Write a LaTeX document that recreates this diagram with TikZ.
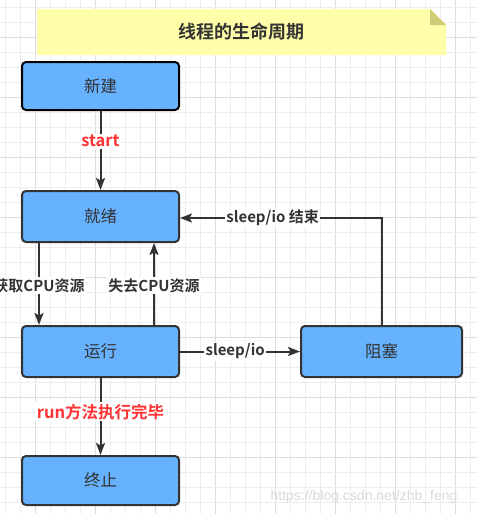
\documentclass[tikz,border=0pt]{standalone}
\usepackage{fontspec}
\setmainfont{Noto Sans CJK SC}[BoldFont={Noto Sans CJK SC Bold}]
\newfontfamily\wmfont{Liberation Sans}
\usetikzlibrary{arrows.meta}
\definecolor{boxfill}{HTML}{66B2FF}
\definecolor{boxline}{HTML}{333333}
\definecolor{txt}{HTML}{333333}
\definecolor{redlbl}{HTML}{FF3333}
\definecolor{notefill}{HTML}{FFFFAA}
\definecolor{notefold}{HTML}{CDCD77}
\definecolor{gridminor}{HTML}{EDEDED}
\definecolor{gridmajor}{HTML}{DEDEDE}
\tikzset{
  statebox/.style={draw=boxline, line width=2pt, fill=boxfill, rounded corners=4pt,
    minimum width=157pt, minimum height=51pt, inner sep=0pt,
    text=txt, font=\fontsize{16.5}{18}\selectfont},
  conn/.style={draw=boxline, line width=2pt, -{Stealth[length=12pt,width=9pt,inset=2.5pt]}},
  blbl/.style={fill=white, inner sep=1.5pt, text=txt, font=\bfseries\fontsize{15}{17}\selectfont},
  rlbl/.style={fill=white, inner sep=1.5pt, text=redlbl, font=\bfseries\fontsize{16.5}{18}\selectfont},
}
\begin{document}
\begin{tikzpicture}[x=1pt,y=-1pt]
\useasboundingbox (0,0) rectangle (477,514);
\clip (0,0) rectangle (477,514);
% grid
\foreach \i in {0,...,31} {
  \pgfmathtruncatemacro{\m}{mod(\i,4)}
  \ifnum\m=2
    \draw[gridmajor, line width=1pt] ({5+15*\i},0) -- ({5+15*\i},514);
  \else
    \draw[gridminor, line width=1pt] ({5+15*\i},0) -- ({5+15*\i},514);
  \fi
}
\foreach \i in {0,...,34} {
  \pgfmathtruncatemacro{\m}{mod(\i,4)}
  \ifnum\m=2
    \draw[gridmajor, line width=1pt] (0,{7+15*\i}) -- (477,{7+15*\i});
  \else
    \draw[gridminor, line width=1pt] (0,{7+15*\i}) -- (477,{7+15*\i});
  \fi
}
% title note
\fill[notefill] (37,9) -- (430,9) -- (446,25) -- (446,55) -- (37,55) -- cycle;
\fill[notefold] (430,9) -- (446,25) -- (430,25) -- cycle;
\node[text=txt, font=\bfseries\fontsize{18}{20}\selectfont] (title) at (241.5,32) {线程的生命周期};
% states
\node[statebox, draw=black, minimum height=48pt] (xinjian) at (100.5,86) {新建};
\node[statebox] (jiuxu) at (100.5,216.5) {就绪};
\node[statebox] (yunxing) at (100.5,351.5) {运行};
\node[statebox, minimum width=161pt] (zuse) at (381.5,351.5) {阻塞};
\node[statebox, minimum height=49pt] (zhongzhi) at (100.5,480.5) {终止};
% connectors
\draw[conn] (xinjian) -- node[rlbl, pos=0.38] {start} (jiuxu);
\draw[conn] ([xshift=18pt]jiuxu.south west) -- node[blbl, pos=0.52] {获取CPU资源} ([xshift=18pt]yunxing.north west);
\draw[conn] ([xshift=-26pt]yunxing.north east) -- node[blbl, pos=0.48] {失去CPU资源} ([xshift=-26pt]jiuxu.south east);
\draw[conn] (yunxing) -- node[blbl, pos=0.46] {sleep/io} (zuse);
\draw[conn] (zuse.north) |- node[blbl, pos=0.77] {sleep/io 结束} ([yshift=-1.5pt]jiuxu.east);
\draw[conn] (yunxing) -- node[rlbl, pos=0.44] {run方法执行完毕} (zhongzhi);
% watermark
\node[text=black!15, font=\wmfont\fontsize{14}{16}\selectfont] (wm) at (364,497) {https://blog.csdn.net/zhb\_feng};
\end{tikzpicture}
\end{document}
